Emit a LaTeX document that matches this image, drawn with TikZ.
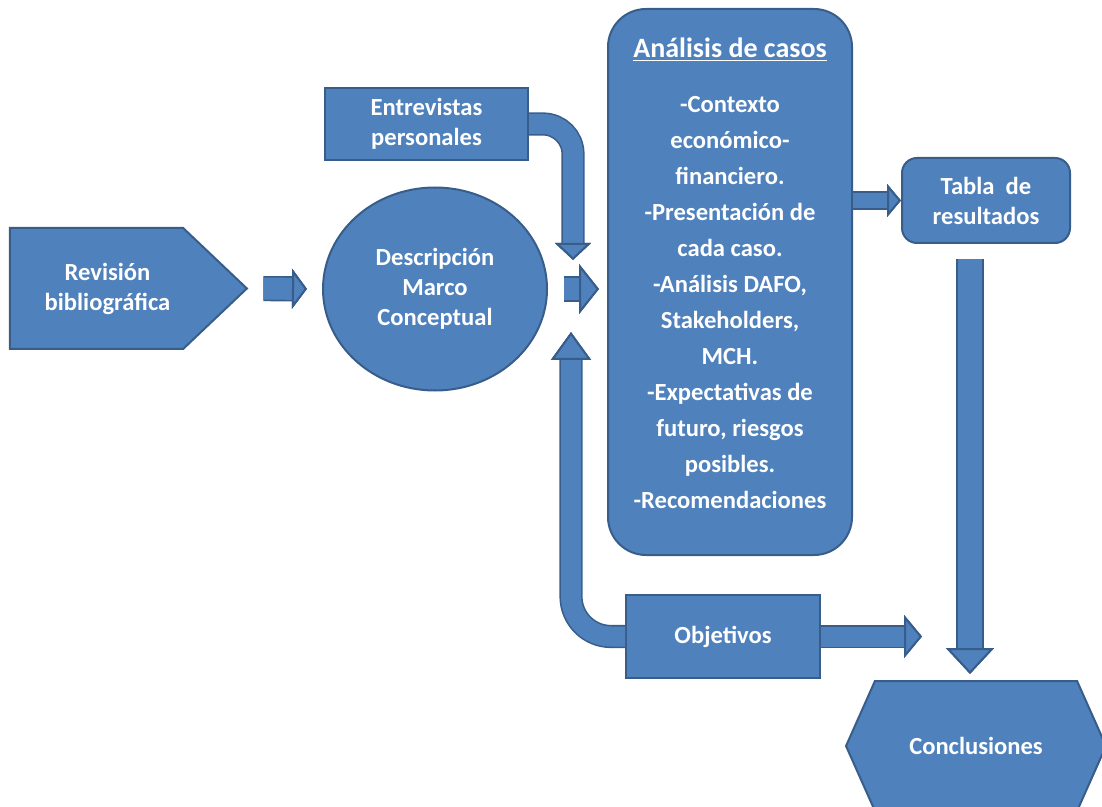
\documentclass[tikz,border=0pt]{standalone}
\usepackage{fontspec}
\setmainfont{Carlito}
\usetikzlibrary{arrows.meta,positioning,shapes.geometric,shapes.symbols}
\definecolor{boxblue}{HTML}{4F81BD}
\definecolor{edgeblue}{HTML}{385D8A}
\begin{document}
\begin{tikzpicture}[x=0.5pt,y=-0.5pt,inner sep=0pt,
  f/.style={draw=boxblue,line width=#1,preaction={draw=edgeblue,line width=#1+1.6pt}},f/.default=10pt,
  hd/.style 2 args={-{Triangle[width=#1,length=#2,line width=1pt,fill=boxblue,color=edgeblue]}}]
  \useasboundingbox(0,0)rectangle(1102,807);
  \tikzstyle{b}=[fill=boxblue,draw=edgeblue,line width=1pt,text=white,align=center,font=\bfseries\fontsize{12.3}{15}\selectfont]
  \node[b,signal,signal to=east,signal pointer angle=87,minimum width=118.5pt,minimum height=60.5pt](rev)at(96.5,288.5){\hspace*{11pt}Revisión\\\hspace*{11pt}bibliográfica};
  \node[b,ellipse,minimum width=112pt,minimum height=101.5pt](desc)at(435,289){Descripción\\Marco\\Conceptual};
  \node[b,minimum width=101.5pt,minimum height=36pt](ent)at(426.5,124){Entrevistas\\personales};
  \node[b,rounded corners=19pt,minimum width=122pt,minimum height=273pt,font=\bfseries\fontsize{12.3}{18}\selectfont](ana)at(730,282){{\fontsize{14}{18}\selectfont\underline{Análisis de casos}}\\[9.5pt]-Contexto\\económico-\\financiero.\\-Presentación de\\cada caso.\\-Análisis DAFO,\\Stakeholders,\\MCH.\\-Expectativas de\\futuro, riesgos\\posibles.\\-Recomendaciones\\[-9pt]\mbox{}};
  \node[b,rounded corners=7.5pt,minimum width=84pt,minimum height=42.5pt](tab)at(986,200.5){Tabla~ de\\resultados};
  \node[b,minimum width=97pt,minimum height=41.5pt](obj)at(723,636.5){Objetivos};
  \node[b,signal,signal to=east and west,signal pointer angle=132,minimum width=130pt,minimum height=65pt](conc)at(976,746){Conclusiones};
  % flechas
  \draw[f=11pt,hd={20pt}{7.5pt},shorten <=7.5pt,shorten >=7.5pt](rev.east)--(desc.west);
  \draw[f=11pt,hd={25pt}{10pt},shorten <=8pt,shorten >=4pt](desc.east)--(desc.east-|ana.west);
  \draw[f,hd={18pt}{8.5pt},rounded corners=15pt,shorten >=11pt](ent.east)-|([xshift=-17pt]ana.west);
  \draw[f,hd={20pt}{14pt},rounded corners=20pt,shorten >=25pt](obj.west)-|([xshift=-18pt]ana.west);
  \draw[f=7.5pt,hd={16.5pt}{7pt}](ana.east|-tab.west)--(tab.west);
  \draw[f,hd={21.5pt}{9pt},shorten >=27pt](obj.east)--(obj.east-|conc.north);
  \draw[f=12pt,hd={24pt}{13pt},shorten <=7.5pt,shorten >=3pt]([xshift=-3pt]conc.north|-tab.south)--([xshift=-3pt]conc.north);
\end{tikzpicture}
\end{document}
